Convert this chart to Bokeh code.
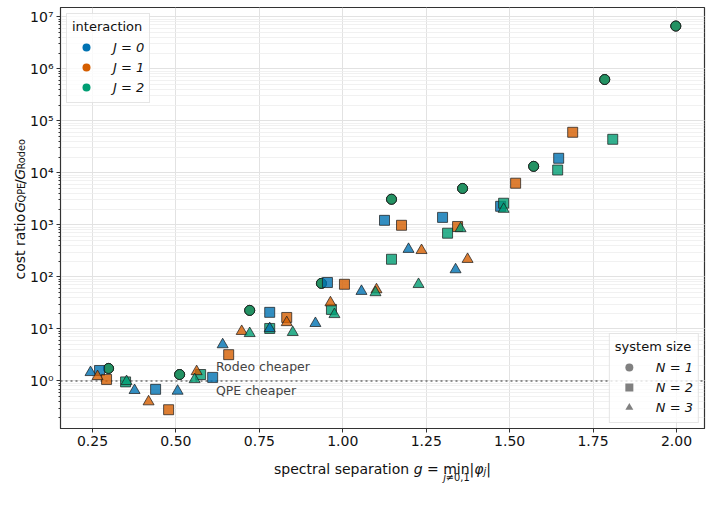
import math

from bokeh.plotting import figure
from bokeh.layouts import column, row
from bokeh.models import (Legend, LegendItem, Span, Label, FixedTicker,
                          CustomJSTickFormatter, PrintfTickFormatter, Range1d)
from bokeh.core.properties import value
from bokeh.embed import file_html
from bokeh.resources import INLINE

# ---------------------------------------------------------------------------
# Cost ratio G_QPE / G_Rodeo against spectral separation g
# ---------------------------------------------------------------------------
# N = 1 (identical for every interaction strength J)
g_n1 = [0.298, 0.511, 0.721, 0.936, 1.146, 1.359, 1.572, 1.785, 1.998]
ratio_n1 = [1.74, 1.33, 22.7, 75, 3100, 5000, 13300, 620000, 6.6e6]

# N = 2
g_j0_n2 = [0.271, 0.439, 0.610, 0.781, 0.954, 1.125, 1.299, 1.473, 1.647]
ratio_j0_n2 = [1.59, 0.69, 1.17, 20.8, 78, 1220, 1390, 2270, 19000]
g_j1_n2 = [0.292, 0.478, 0.658, 0.832, 1.005, 1.176, 1.344, 1.518, 1.689]
ratio_j1_n2 = [1.07, 0.28, 3.2, 16.6, 72, 980, 930, 6300, 60000]
g_j2_n2 = [0.349, 0.574, 0.781, 0.966, 1.146, 1.314, 1.482, 1.644, 1.809]
ratio_j2_n2 = [0.96, 1.33, 10.2, 23.7, 218, 690, 2600, 11300, 44000]

# N = 3
g_j0_n3 = [0.244, 0.376, 0.505, 0.640, 0.781, 0.918, 1.056, 1.197, 1.338]
ratio_j0_n3 = [1.46, 0.66, 0.64, 5.0, 10.2, 12.8, 53, 340, 138]
g_j1_n3 = [0.265, 0.418, 0.562, 0.697, 0.832, 0.963, 1.101, 1.236, 1.374]
ratio_j1_n3 = [1.22, 0.40, 1.52, 9.0, 13.3, 32, 57, 323, 218]
g_j2_n3 = [0.352, 0.556, 0.721, 0.850, 0.975, 1.098, 1.227, 1.353, 1.482]
ratio_j2_n3 = [0.98, 1.07, 8.2, 8.6, 19, 50, 72, 850, 2000]

J_values = [0, 1, 2]
N_values = [1, 2, 3]
J_colors = ["#0072B2", "#D55E00", "#009E73"]
N_markers = {1: "circle", 2: "square", 3: "triangle"}
x_ticks = [0.25, 0.50, 0.75, 1.00, 1.25, 1.50, 1.75, 2.00]

series = {
    (1, 0): (g_n1, ratio_n1), (1, 1): (g_n1, ratio_n1), (1, 2): (g_n1, ratio_n1),
    (2, 0): (g_j0_n2, ratio_j0_n2), (2, 1): (g_j1_n2, ratio_j1_n2), (2, 2): (g_j2_n2, ratio_j2_n2),
    (3, 0): (g_j0_n3, ratio_j0_n3), (3, 1): (g_j1_n3, ratio_j1_n3), (3, 2): (g_j2_n3, ratio_j2_n3),
}

FONT = "DejaVu Sans"
W, H = 712, 513          # whole page
YT_W = 27                # strip holding the rotated y title
MAIN_H = 452             # main plot height (frame bottom at 428)
XT_H = H - MAIN_H        # strip holding the x title

p = figure(width=W - YT_W, height=MAIN_H, y_axis_type="log",
           x_range=Range1d(0.154, 2.084), y_range=Range1d(0.122, 1.5e7),
           output_backend="svg", toolbar_location=None,
           min_border_left=60 - YT_W, min_border_right=8, min_border_top=7,
           min_border_bottom=24)
p.background_fill_color = "white"
p.border_fill_color = "white"
p.outline_line_color = "#333333"
p.outline_line_width = 1.2

# axes
p.xaxis.ticker = FixedTicker(ticks=x_ticks)
p.xgrid.ticker = FixedTicker(ticks=x_ticks)
p.xaxis.formatter = PrintfTickFormatter(format="%.2f")
p.yaxis.ticker.num_minor_ticks = 10
p.yaxis.formatter = CustomJSTickFormatter(code="""
const e = Math.round(Math.log10(tick));
const sup = "\u2070\u00b9\u00b2\u00b3\u2074\u2075\u2076\u2077\u2078\u2079";
let s = String(Math.abs(e)).split("").map(d => sup[parseInt(d)]).join("");
if (e < 0) { s = "\u207b" + s; }
return "10" + s;
""")
for ax in (p.xaxis, p.yaxis):
    ax.axis_line_color = "#333333"
    ax.major_tick_line_color = "#333333"
    ax.minor_tick_line_color = "#333333"
    ax.major_tick_in = 0
    ax.major_tick_out = 4
    ax.minor_tick_in = 0
    ax.minor_tick_out = 2
    ax.major_label_text_font = FONT
    ax.major_label_text_font_size = "14px"
    ax.major_label_text_color = "#111111"
p.xaxis.minor_tick_line_color = None
p.xaxis.major_label_standoff = 3
p.yaxis.major_label_standoff = 3

p.xgrid.grid_line_color = "#e2e2e2"
p.ygrid.grid_line_color = "#e2e2e2"
p.ygrid.minor_grid_line_color = "#eeeeee"
p.ygrid.minor_grid_line_width = 0.8

# break-even line
p.add_layout(Span(location=1.0, dimension="width", line_color="#6f6f6f",
                  line_dash="2 3", line_width=1.6, level="underlay"))
p.add_layout(Label(x=0.62, y=1.9, text="Rodeo cheaper", text_baseline="middle",
                   text_font=FONT, text_font_size="12.5px", text_color="#444444"))
p.add_layout(Label(x=0.62, y=0.66, text="QPE cheaper", text_baseline="middle",
                   text_font=FONT, text_font_size="12.5px", text_color="#444444"))

# markers: N outer, J inner
sizes = {1: 10, 2: 10, 3: 11}
for n in N_values:
    for j, col in zip(J_values, J_colors):
        gx, ry = series[(n, j)]
        p.scatter(x=gx, y=ry, marker=N_markers[n], size=sizes[n],
                  fill_color=col, fill_alpha=0.8,
                  line_color="#1a1a1a", line_alpha=0.8, line_width=0.9)

# legend handles: zero-size markers, only their legend swatches are seen
j_items = []
for j, col in zip(J_values, J_colors):
    r = p.scatter(x=g_n1[:1], y=ratio_n1[:1], marker="circle", size=0,
                  fill_color=col, line_color=None)
    j_items.append(LegendItem(label=f"J = {j}", renderers=[r]))
n_items = []
for n in N_values:
    r = p.scatter(x=g_n1[:1], y=ratio_n1[:1], marker=N_markers[n], size=0,
                  fill_color="#808080", line_color=None)
    n_items.append(LegendItem(label=f"N = {n}", renderers=[r]))

leg_j = Legend(items=j_items, title="interaction", location="top_left")
leg_n = Legend(items=n_items, title="system size", location="bottom_right")
for leg, m in ((leg_j, 6), (leg_n, 5)):
    leg.margin = m
    leg.padding = 5
    leg.spacing = 0
    leg.glyph_width = 28
    leg.glyph_height = 20
    leg.label_height = 20
    leg.label_standoff = 13
    leg.title_standoff = 3
    leg.title_text_font = FONT
    leg.title_text_font_size = "13px"
    leg.title_text_font_style = "normal"
    leg.title_text_color = "#111111"
    leg.label_text_font = FONT
    leg.label_text_font_size = "13px"
    leg.label_text_font_style = "italic"
    leg.label_text_color = "#111111"
    leg.border_line_color = "#cccccc"
    leg.background_fill_color = "white"
    leg.background_fill_alpha = 0.8
    p.add_layout(leg)


# ---------------------------------------------------------------------------
# axis titles (with sub-scripts) drawn in thin strips next to the plot;
# strip coordinates are page pixels, y measured upward from the page bottom
# ---------------------------------------------------------------------------
def strip(width, height, x0, y_bottom):
    f = figure(width=width, height=height, output_backend="svg",
               toolbar_location=None, min_border=0,
               x_range=Range1d(x0, x0 + width),
               y_range=Range1d(y_bottom, y_bottom + height),
               x_axis_location=None, y_axis_location=None)
    f.grid.visible = False
    f.outline_line_color = None
    f.background_fill_color = "white"
    f.border_fill_color = "white"
    return f


ADV = {' ': 0.318, 'a': 0.613, 'c': 0.550, 'd': 0.635, 'e': 0.615, 'g': 0.635,
       'i': 0.278, 'l': 0.278, 'm': 0.974, 'n': 0.634, 'o': 0.612, 'p': 0.635,
       'r': 0.411, 's': 0.521, 't': 0.392, '=': 0.838, '|': 0.337, 'φ': 0.66,
       'j': 0.278, 'G': 0.775, 'Q': 0.787, 'P': 0.603, 'E': 0.632, 'R': 0.695,
       '/': 0.337, ',': 0.318, '0': 0.636, '1': 0.636, '≠': 0.838}


def text_width(s, size):
    return sum(ADV.get(ch, 0.6) for ch in s) * size


def put(f, text, px, py, style, size, angle=0.0):
    """Place text with its baseline start at page pixel (px, py)."""
    lead = text_width(text[:len(text) - len(text.lstrip())], size)
    dx, dy = lead * math.cos(angle), lead * math.sin(angle)
    f.text(x=[px + dx], y=[H - py + dy], text=[text.strip()], angle=angle,
           text_align="left", text_baseline="alphabetic",
           text_font=value(FONT), text_font_style=value(style),
           text_font_size=value(f"{size}px"), text_color="#111111")


MAIN, SUB = 14, 9.8

# x title: "spectral separation g = min_{j≠0,1} |φ_j|"
xt = strip(W, XT_H, 0, 0)
x_pieces = [("spectral separation ", "normal", MAIN, 0), ("g", "italic", MAIN, 0),
            (" = ", "normal", MAIN, 0), ("min", "normal", MAIN, 0),
            ("|", "normal", MAIN, 0), ("φ", "italic", MAIN, 0),
            ("j", "italic", SUB, 3), ("|", "normal", MAIN, 0)]
total = sum(text_width(t, s) for t, _, s, _ in x_pieces)
cx = 382 - total / 2
min_center = None
for t, style, size, dy in x_pieces:
    w = text_width(t, size)
    if t == "min":
        min_center = cx + w / 2
    put(xt, t, cx, 468 + dy, style, size)
    cx += w
sub_pieces = [("j", "italic"), ("≠0,1", "normal")]
sub_total = sum(text_width(t, SUB) for t, _ in sub_pieces)
sx = min_center - sub_total / 2
for t, style in sub_pieces:
    put(xt, t, sx, 477, style, SUB)
    sx += text_width(t, SUB)

# y title: "cost ratio G_QPE / G_Rodeo", rotated to read upwards
# (piece, style, size, shift toward the subscript side, extra gap after)
yt = strip(YT_W, MAIN_H, 0, XT_H)
y_pieces = [("cost ratio ", "normal", MAIN, 0, 1.5), ("G", "italic", MAIN, 0, 0),
            ("QPE", "normal", SUB, 2, 0), ("/", "normal", MAIN, 0, 0),
            ("G", "italic", MAIN, 0, 0), ("Rodeo", "normal", SUB, 2, 0)]
total = sum(text_width(t, s) + gap for t, _, s, _, gap in y_pieces)
cy = 217.5 + total / 2
for t, style, size, dx, gap in y_pieces:
    put(yt, t, 19 + dx, cy, style, size, angle=math.pi / 2)
    cy -= text_width(t, size) + gap

layout = column(row(yt, p, spacing=0), xt, spacing=0)
open("out.html", "w").write(file_html(layout, INLINE))
